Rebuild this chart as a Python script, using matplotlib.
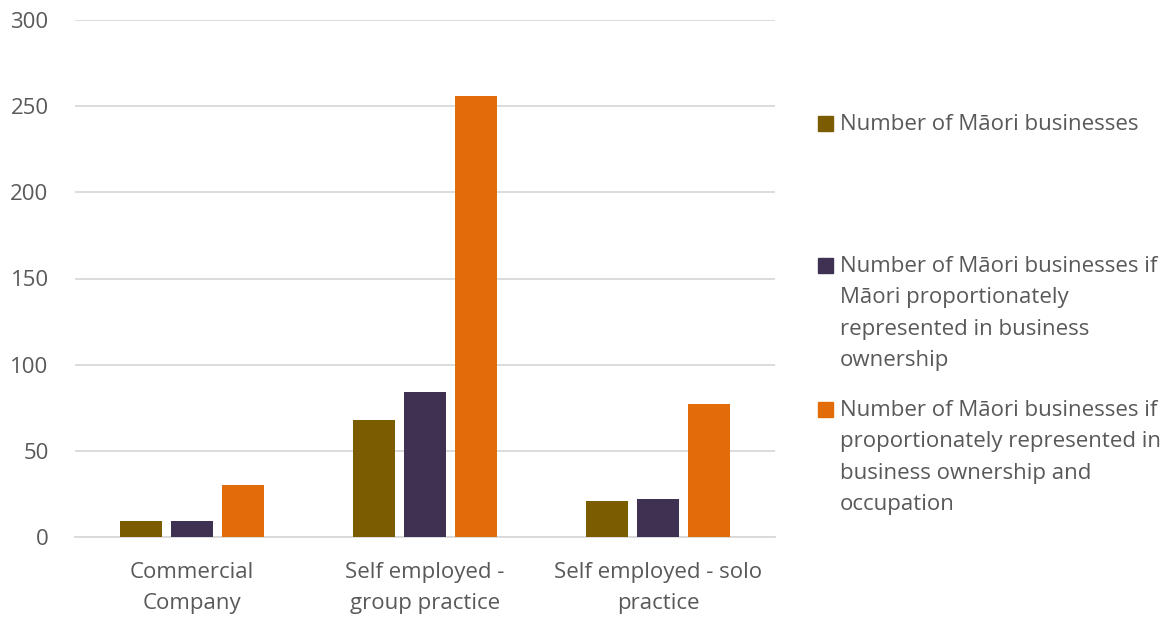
import matplotlib.pyplot as plt
import matplotlib.patches as mpatches
import numpy as np

plt.rcParams['font.family'] = ['Open Sans', 'DejaVu Sans']

categories = ['Commercial\nCompany', 'Self employed -\ngroup practice', 'Self employed - solo\npractice']
maori_businesses = [9, 68, 21]
if_owner_proportional = [9, 84, 22]
if_owner_occupation_proportional = [30, 256, 77]

series_labels = [
    'Number of Māori businesses',
    'Number of Māori businesses if\nMāori proportionately\nrepresented in business\nownership',
    'Number of Māori businesses if\nproportionately represented in\nbusiness ownership and\noccupation',
]
colors = ['#7B5C00', '#3F3151', '#E36C0A']
text_grey = '#595959'

fig = plt.figure(figsize=(11.73, 6.18), dpi=100)
ax = fig.add_axes([75 / 1173, 1 - 537 / 618, 700 / 1173, 517 / 618])

x = np.arange(len(categories))
width = 0.18
step = 0.219
series = [maori_businesses, if_owner_proportional, if_owner_occupation_proportional]
for i, vals in enumerate(series):
    ax.bar(x + (i - 1) * step, vals, width, color=colors[i], zorder=3)

ax.set_xlim(-0.5, len(categories) - 0.5)
ax.set_ylim(0, 300)
ax.set_yticks(range(0, 301, 50))
ax.yaxis.grid(True, color='#D9D9D9', linewidth=1.3, zorder=0)
for s in ['top', 'right', 'left']:
    ax.spines[s].set_visible(False)
ax.spines['bottom'].set_color('#D9D9D9')
ax.spines['bottom'].set_linewidth(1.3)
ax.set_xticks(x)
ax.set_xticklabels(categories, linespacing=1.65)
ax.tick_params(axis='both', length=0, labelsize=16, colors=text_grey)
ax.tick_params(axis='y', pad=19)
ax.tick_params(axis='x', pad=18)

# legend drawn by hand so the entries can sit at their own heights
legend_tops = [114, 256, 400]
for i, lab in enumerate(series_labels):
    top = legend_tops[i]
    fig.patches.append(mpatches.Rectangle((818 / 1173, 1 - (top + 17) / 618), 15 / 1173, 15 / 618,
                                          transform=fig.transFigure, color=colors[i]))
    fig.text(840 / 1173, 1 - top / 618, lab, fontsize=16, color=text_grey,
             va='top', ha='left', linespacing=1.65)

fig.savefig('out.png', dpi=100)
